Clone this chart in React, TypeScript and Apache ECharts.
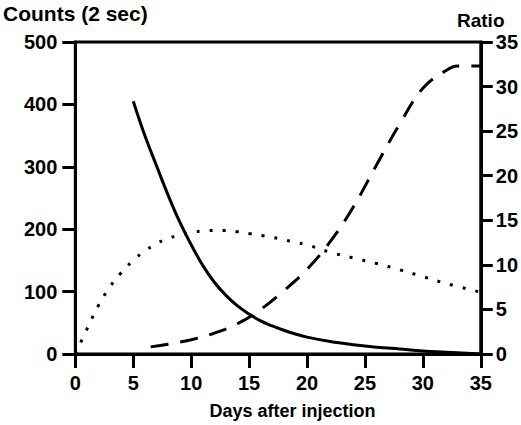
import React, { useEffect, useRef } from "react";
import * as echarts from "echarts";

const xTicks = [0, 5, 10, 15, 20, 25, 30, 35];
const countsTicks = [0, 100, 200, 300, 400, 500];
const ratioTicks = [0, 5, 10, 15, 20, 25, 30, 35];

// Solid line: counts (left axis)
const solidDays = [5, 6, 7, 8, 9, 10, 11, 12, 13, 14, 15, 16, 17, 18, 19, 20, 22, 24, 26, 28, 30, 32, 35];
const solidCounts = [405, 350, 302, 255, 212, 175, 142, 115, 94, 77, 64, 53, 45, 38, 32, 27, 20, 15, 11, 8, 5, 3, 0];

// Dotted line: counts (left axis)
const dottedDays = [0, 1, 2, 3, 4, 5, 6, 7, 8, 9, 10, 11, 12, 13, 14, 15, 16, 17, 18, 19, 20, 22, 24, 26, 28, 30, 32, 35];
const dottedCounts = [0, 40, 78, 108, 131, 150, 165, 177, 185, 191, 195, 197, 198, 198, 196, 193, 190, 187, 183, 179, 175, 163, 154, 145, 135, 124, 113, 99];

// Dashed line: ratio (right axis)
const dashedDays = [6.5, 8, 10, 12, 14, 16, 18, 20, 22, 24, 26, 28, 30, 32, 33, 35];
const dashedRatio = [0.8, 1.1, 1.6, 2.35, 3.4, 5.0, 7.1, 9.5, 12.6, 16.5, 21.2, 25.8, 29.8, 31.8, 32.3, 32.3];

const pairs = (xs: number[], ys: number[]) => xs.map((x, i) => [x, ys[i]]);

const FONT = "'Liberation Sans', Arial, sans-serif";

export default function App() {
  const ref = useRef<HTMLDivElement>(null);
  useEffect(() => {
    if (!ref.current) return;
    const chart = echarts.init(ref.current, null, { renderer: "svg" });
    const labelStyle = { color: "#000", fontSize: 20, fontWeight: "bold" as const, fontFamily: FONT };
    const axisLine = { show: true, lineStyle: { color: "#000", width: 3 } };
    chart.setOption({
      animation: false,
      backgroundColor: "#fff",
      grid: {
        left: 72,
        right: 40,
        top: 42,
        bottom: 70,
        show: true,
        borderColor: "#000",
        borderWidth: 3,
        backgroundColor: "transparent",
      },
      xAxis: {
        type: "value",
        min: xTicks[0],
        max: xTicks[xTicks.length - 1],
        interval: 5,
        name: "Days after injection",
        nameLocation: "middle",
        nameGap: 48,
        nameTextStyle: { ...labelStyle, fontSize: 18, padding: [0, 0, 0, 29] },
        axisLine,
        axisTick: { show: true, length: 14, lineStyle: { color: "#000", width: 3 } },
        axisLabel: { ...labelStyle, margin: 19 },
        splitLine: { show: false },
      },
      yAxis: [
        {
          type: "value",
          min: countsTicks[0],
          max: countsTicks[countsTicks.length - 1],
          interval: 100,
          position: "left",
          name: "Counts (2 sec)",
          nameLocation: "end",
          nameGap: 18,
          nameTextStyle: { ...labelStyle, fontSize: 21, align: "center" },
          axisLine,
          axisTick: { show: true, length: 13, lineStyle: { color: "#000", width: 3 } },
          axisLabel: { ...labelStyle, margin: 18 },
          splitLine: { show: false },
        },
        {
          type: "value",
          min: ratioTicks[0],
          max: ratioTicks[ratioTicks.length - 1],
          interval: 5,
          position: "right",
          name: "Ratio",
          nameLocation: "end",
          nameGap: 12,
          nameTextStyle: { ...labelStyle, fontSize: 19, align: "center" },
          axisLine,
          axisTick: { show: true, length: 12, lineStyle: { color: "#000", width: 3 } },
          axisLabel: { ...labelStyle, margin: 15 },
          splitLine: { show: false },
        },
      ],
      series: [
        {
          name: "Counts",
          type: "line",
          yAxisIndex: 0,
          data: pairs(solidDays, solidCounts),
          smooth: 0.4,
          showSymbol: false,
          lineStyle: { color: "#000", width: 3, type: "solid" },
        },
        {
          name: "Counts (dotted)",
          type: "line",
          yAxisIndex: 0,
          data: pairs(dottedDays, dottedCounts),
          smooth: 0.4,
          showSymbol: false,
          lineStyle: { color: "#000", width: 3, type: [3, 10] },
        },
        {
          name: "Ratio",
          type: "line",
          yAxisIndex: 1,
          data: pairs(dashedDays, dashedRatio),
          smooth: 0.4,
          showSymbol: false,
          lineStyle: { color: "#000", width: 3, type: [18, 12] },
        },
      ],
    });
    return () => chart.dispose();
  }, []);
  return <div ref={ref} style={{ width: 521, height: 425, position: "absolute", left: 0, top: 0 }} />;
}
